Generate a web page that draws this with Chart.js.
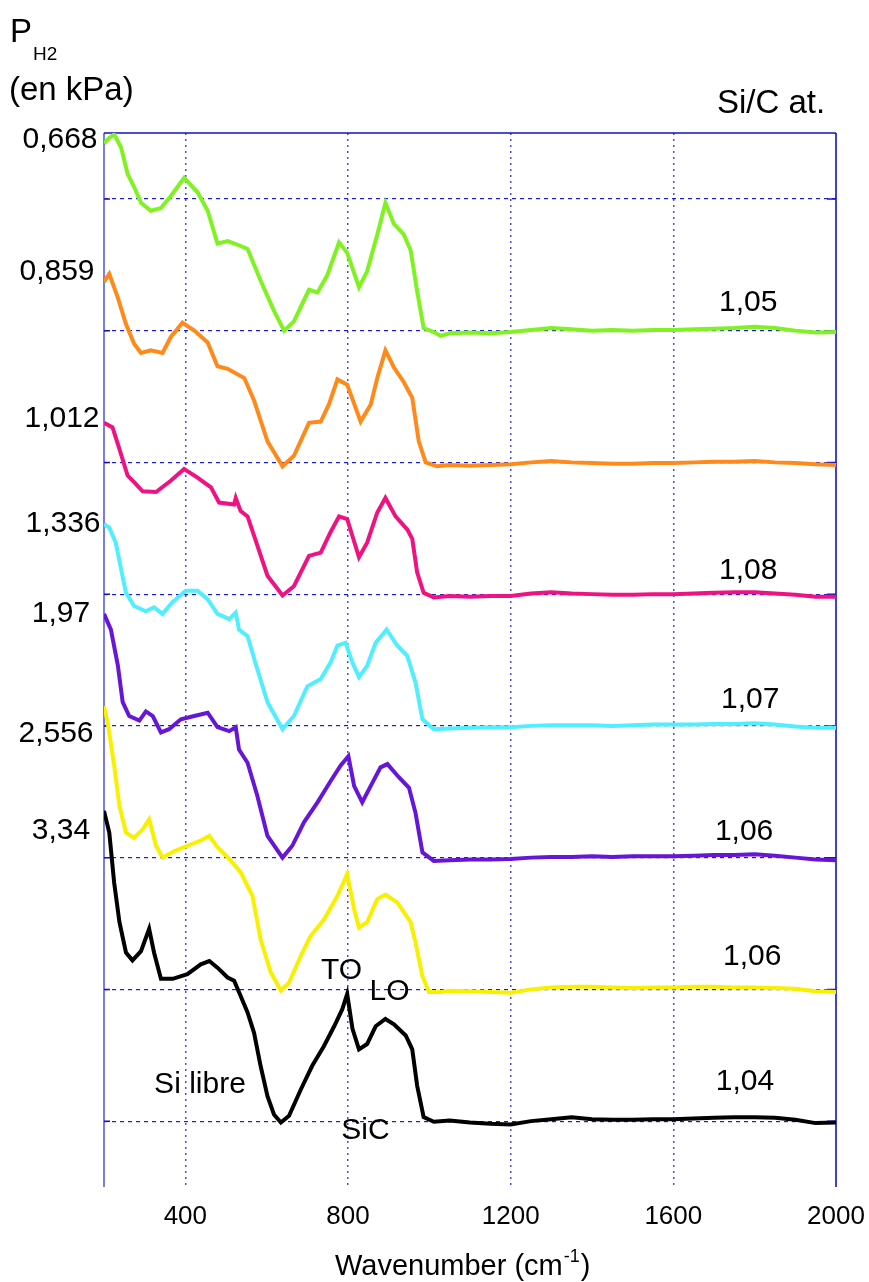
<!DOCTYPE html>
<html>
<head>
<meta charset="utf-8">
<script src="https://cdn.jsdelivr.net/npm/chart.js@4.4.0/dist/chart.umd.min.js"></script>
<style>
  html, body { margin: 0; padding: 0; background: #fff; }
</style>
</head>
<body>
<canvas id="spectra" width="869" height="1282"></canvas>
<script>
// IR spectra, stacked by H2 pressure. Values in offset units (100 per trace step)
const green = [
  [200, 742], [212, 746], [225, 749], [242, 739], [258, 719], [274, 709], [291, 697], [315, 691], [340, 693],
  [364, 702], [397, 716], [430, 705], [455, 691], [479, 666], [504, 668], [530, 665], [553, 662], [585, 638],
  [618, 615], [643, 600], [667, 607], [704, 631], [725, 629], [749, 642], [778, 667], [798, 659], [827, 633],
  [847, 645], [872, 673], [892, 697], [913, 681], [937, 673], [954, 661], [970, 630], [986, 602], [1011, 599],
  [1028, 596], [1050, 598], [1100, 598.5], [1150, 598], [1200, 599], [1250, 600.5], [1300, 602], [1350, 601],
  [1400, 600], [1450, 600.5], [1500, 600], [1550, 600.5], [1600, 600.5], [1650, 601], [1700, 601.5],
  [1750, 602], [1800, 603], [1850, 602], [1900, 600], [1950, 598.5], [2000, 599],
];
const orange = [
  [200, 637], [213, 643], [234, 625], [254, 605], [274, 590], [291, 583], [315, 585], [344, 583], [364, 595],
  [393, 606], [422, 600], [455, 591], [479, 573], [504, 571], [545, 564], [569, 547], [602, 516], [639, 497],
  [667, 505], [704, 530], [733, 531], [753, 544], [774, 563], [798, 559], [831, 531], [856, 544], [872, 564],
  [892, 585], [913, 572], [937, 561], [958, 549], [974, 516], [991, 500], [1019, 497], [1050, 498],
  [1100, 497.5], [1150, 498], [1200, 498.5], [1250, 500], [1300, 501], [1350, 500], [1400, 499.5], [1450, 499],
  [1500, 499], [1550, 499.5], [1600, 499.5], [1650, 500], [1700, 500.5], [1750, 500.5], [1800, 501],
  [1850, 500], [1900, 499.5], [1950, 498.5], [2000, 498],
];
const pink = [
  [200, 530], [221, 526.5], [238, 510], [258, 490], [274, 485], [295, 478], [328, 477.5], [364, 486], [397, 495],
  [430, 488.5], [463, 481], [483, 469.5], [520, 468], [524, 473], [536, 463], [553, 459], [577, 437], [602, 414],
  [639, 399], [667, 406], [704, 429], [733, 431.5], [757, 447], [778, 459], [798, 457], [827, 428], [847, 439],
  [872, 462], [892, 473], [917, 459], [946, 449], [958, 442], [970, 416.5], [986, 401], [1011, 397.5],
  [1050, 398.5], [1100, 398], [1150, 398.5], [1200, 398.5], [1250, 400.5], [1300, 401.5], [1350, 400.5],
  [1400, 400], [1450, 399.5], [1500, 399.5], [1550, 400], [1600, 400], [1650, 400.5], [1700, 401],
  [1750, 401.5], [1800, 401.5], [1850, 400.5], [1900, 399.5], [1950, 398], [2000, 398],
];
const cyan = [
  [200, 453], [213, 450.5], [229, 439], [242, 419], [254, 401], [274, 391], [303, 387], [323, 390], [344, 385],
  [369, 394], [401, 402.5], [430, 402.5], [455, 396], [479, 385], [508, 381], [524, 386], [532, 373], [553, 368],
  [577, 343], [602, 318], [639, 297.5], [667, 307.5], [700, 330], [733, 335.5], [757, 348], [774, 361],
  [794, 363], [811, 348], [827, 337], [847, 345.5], [868, 363], [895, 373], [921, 361], [946, 353], [966, 333],
  [983, 305], [1011, 297.5], [1050, 298], [1100, 298.5], [1150, 299], [1200, 299], [1250, 300], [1300, 300.5],
  [1350, 300.5], [1400, 300.5], [1450, 300], [1500, 300.5], [1550, 301], [1600, 301], [1650, 301],
  [1700, 301.5], [1750, 301.5], [1800, 302], [1850, 301], [1900, 299.5], [1950, 298.5], [2000, 298.5],
];
const purple = [
  [200, 385], [217, 373], [234, 346], [246, 318], [262, 307.5], [287, 304], [303, 311], [320, 307.5], [340, 295],
  [360, 297.5], [389, 305], [422, 307.5], [455, 310], [479, 299], [508, 296], [524, 299], [532, 282], [553, 272],
  [577, 247], [602, 216.5], [639, 200], [663, 209], [692, 227], [725, 242], [757, 258], [782, 270], [801, 277],
  [815, 254.5], [835, 242], [856, 254.5], [880, 268.5], [897, 271], [925, 261], [950, 253], [966, 234],
  [983, 204], [1011, 197.5], [1050, 198], [1100, 198.5], [1150, 198.5], [1200, 199], [1250, 200], [1300, 200.5],
  [1350, 200.5], [1400, 201], [1450, 200.5], [1500, 201], [1550, 201], [1600, 201], [1650, 201.5], [1700, 202],
  [1750, 202], [1800, 202.5], [1850, 201.5], [1900, 200], [1950, 198.5], [2000, 198],
];
const yellow = [
  [200, 315], [209, 302.5], [225, 270], [238, 239], [254, 219], [274, 215], [295, 221.5], [311, 229], [328, 209],
  [344, 200], [373, 205], [405, 209], [438, 213], [459, 216.5], [479, 208], [508, 199], [536, 189], [557, 176],
  [565, 171], [585, 138], [610, 113], [635, 99], [655, 105], [684, 125.5], [708, 140.5], [741, 153], [774, 171],
  [798, 187.5], [815, 161], [827, 147], [847, 151], [872, 168.5], [892, 172], [921, 166], [954, 151], [966, 135.5],
  [983, 110], [999, 98], [1028, 98], [1050, 99], [1100, 98.5], [1150, 98], [1200, 97.5], [1250, 100],
  [1300, 101.5], [1350, 102], [1400, 102], [1450, 101.5], [1500, 101], [1550, 101.5], [1600, 101.5],
  [1650, 102], [1700, 102], [1750, 101.5], [1800, 101.5], [1850, 101], [1900, 100.5], [1950, 98.5], [2000, 98],
];
const black = [
  [200, 235.5], [213, 219], [225, 181], [238, 151], [254, 128], [270, 122], [291, 129], [311, 146], [323, 128],
  [340, 108], [369, 108], [405, 111.5], [438, 119], [459, 121.5], [479, 116.5], [504, 109], [520, 106.5],
  [536, 95], [553, 82.5], [569, 67], [585, 42], [602, 19], [618, 5], [635, -1], [655, 4], [684, 24], [712, 42],
  [741, 57], [766, 72], [786, 85], [798, 96.5], [811, 70], [827, 54.5], [847, 58.5], [868, 72], [892, 77.5],
  [913, 73.5], [942, 65], [958, 54.5], [970, 27], [986, 3], [1011, -0.5], [1050, 0.5], [1100, -1], [1150, -2],
  [1200, -2.5], [1250, 0], [1300, 1.5], [1350, 3], [1400, 1.5], [1450, 1], [1500, 1], [1550, 1.5], [1600, 1.5],
  [1650, 2], [1700, 2.5], [1750, 3], [1800, 3], [1850, 2.5], [1900, 1], [1950, -1.5], [2000, -1],
];

// labels
const pressures = ['0,668', '0,859', '1,012', '1,336', '1,97', '2,556', '3,34'];
const siCRatios = ['1,05', '', '1,08', '1,07', '1,06', '1,06', '1,04'];
const xTicks = [400, 800, 1200, 1600, 2000];
const baselines = [0, 100, 200, 300, 400, 500, 600, 700];

const traces = [green, orange, pink, cyan, purple, yellow, black];
const colors = ['#80f222', '#ff8a1c', '#ef1282', '#50eeff', '#6715d6', '#f8f000', '#000000'];

const FONT = '"Liberation Sans", Arial, sans-serif';

// label placement (layout only)
const pressureLayout = [[60, 744.6], [57, 644.4], [62, 532.8], [63, 453.1], [61, 384.8], [56, 293.7], [61, 220.1]];
const ratioLayout = [[1784, 621], null, [1784, 418], [1789, 320], [1774, 220], [1794, 125], [1776, 30]];
const peakNotes = [['Si libre', 436, 28], ['TO', 784, 114], ['LO', 902, 98], ['SiC', 843, -7.6]];

const framePlugin = {
  id: 'frame',
  beforeDatasetsDraw(chart) {
    const { ctx, chartArea: a, scales: { y } } = chart;
    ctx.save();
    ctx.lineCap = 'butt';
    // left axis
    ctx.strokeStyle = '#7c7ce6';
    ctx.lineWidth = 2;
    ctx.beginPath();
    ctx.moveTo(a.left, a.top);
    ctx.lineTo(a.left, a.bottom);
    ctx.stroke();
    // top + right border
    ctx.strokeStyle = '#1212cc';
    ctx.lineWidth = 1.6;
    ctx.beginPath();
    ctx.moveTo(a.left, a.top);
    ctx.lineTo(a.right, a.top);
    ctx.moveTo(a.right, a.top);
    ctx.lineTo(a.right, a.bottom);
    ctx.stroke();
    // small ticks on left and right edges
    ctx.lineWidth = 1.5;
    ctx.beginPath();
    baselines.forEach(v => {
      const py = y.getPixelForValue(v);
      ctx.moveTo(a.left, py);
      ctx.lineTo(a.left + 6, py);
      ctx.moveTo(a.right - 9, py);
      ctx.lineTo(a.right, py);
    });
    ctx.stroke();
    ctx.restore();
  },
  afterDraw(chart) {
    const { ctx, scales: { x, y } } = chart;
    ctx.save();
    ctx.fillStyle = '#000';

    // y title
    ctx.textAlign = 'left';
    ctx.textBaseline = 'alphabetic';
    ctx.font = `33px ${FONT}`;
    ctx.fillText('P', 10, 42);
    ctx.font = `19px ${FONT}`;
    ctx.fillText('H2', 33, 60);
    ctx.font = `33px ${FONT}`;
    ctx.fillText('(en kPa)', 9, 100);
    ctx.textAlign = 'center';
    ctx.fillText('Si/C at.', 771, 113);

    // pressure labels
    ctx.font = `30px ${FONT}`;
    ctx.textBaseline = 'middle';
    pressures.forEach((t, i) => {
      const [px, v] = pressureLayout[i];
      ctx.fillText(t, px, y.getPixelForValue(v));
    });

    // Si/C ratio labels
    siCRatios.forEach((t, i) => {
      if (!t || !ratioLayout[i]) return;
      const [wn, v] = ratioLayout[i];
      ctx.fillText(t, x.getPixelForValue(wn), y.getPixelForValue(v));
    });

    // peak notes
    peakNotes.forEach(([t, wn, v]) => {
      ctx.fillText(t, x.getPixelForValue(wn), y.getPixelForValue(v));
    });

    // x title with superscript
    ctx.textAlign = 'left';
    ctx.textBaseline = 'alphabetic';
    ctx.font = `29px ${FONT}`;
    const main = 'Wavenumber (cm';
    let tx = 335;
    ctx.fillText(main, tx, 1275);
    tx += ctx.measureText(main).width;
    ctx.font = `18px ${FONT}`;
    ctx.fillText('-1', tx + 1, 1262);
    tx += ctx.measureText('-1').width + 2;
    ctx.font = `29px ${FONT}`;
    ctx.fillText(')', tx, 1275);
    ctx.restore();
  },
};

new Chart(document.getElementById('spectra'), {
  type: 'line',
  data: {
    datasets: traces.map((pts, i) => ({
      data: pts.map(([wn, v]) => ({ x: wn, y: v })),
      borderColor: colors[i],
      borderWidth: 4,
      pointRadius: 0,
      tension: 0,
      fill: false,
    })),
  },
  options: {
    responsive: false,
    animation: false,
    layout: { padding: { top: 133, right: 33, left: 0, bottom: 0 } },
    scales: {
      x: {
        type: 'linear',
        min: 200,
        max: 2000,
        afterBuildTicks: (s) => { s.ticks = xTicks.map(v => ({ value: v })); },
        afterFit: (s) => { s.height = 95; s.paddingLeft = 0; s.paddingRight = 0; },
        grid: {
          color: (c) => (c.tick && c.tick.value === 2000 ? 'rgba(0,0,0,0)' : '#4c4ce2'),
          lineWidth: 1.5,
          drawTicks: false,
        },
        border: { display: false, dash: [2, 4] },
        ticks: {
          color: '#000',
          font: { family: FONT, size: 26 },
          padding: 14,
          maxRotation: 0,
          autoSkip: false,
          callback: (v) => String(v),
        },
      },
      y: {
        type: 'linear',
        min: -50,
        max: 750,
        afterBuildTicks: (s) => { s.ticks = baselines.map(v => ({ value: v })); },
        afterFit: (s) => { s.width = 104; s.paddingTop = 0; s.paddingBottom = 0; },
        grid: { color: '#1a1ad4', lineWidth: 1.2, drawTicks: false },
        border: { display: false, dash: [4, 4] },
        ticks: { display: false },
      },
    },
    plugins: {
      legend: { display: false },
      tooltip: { enabled: false },
    },
  },
  plugins: [framePlugin],
});
</script>
</body>
</html>
